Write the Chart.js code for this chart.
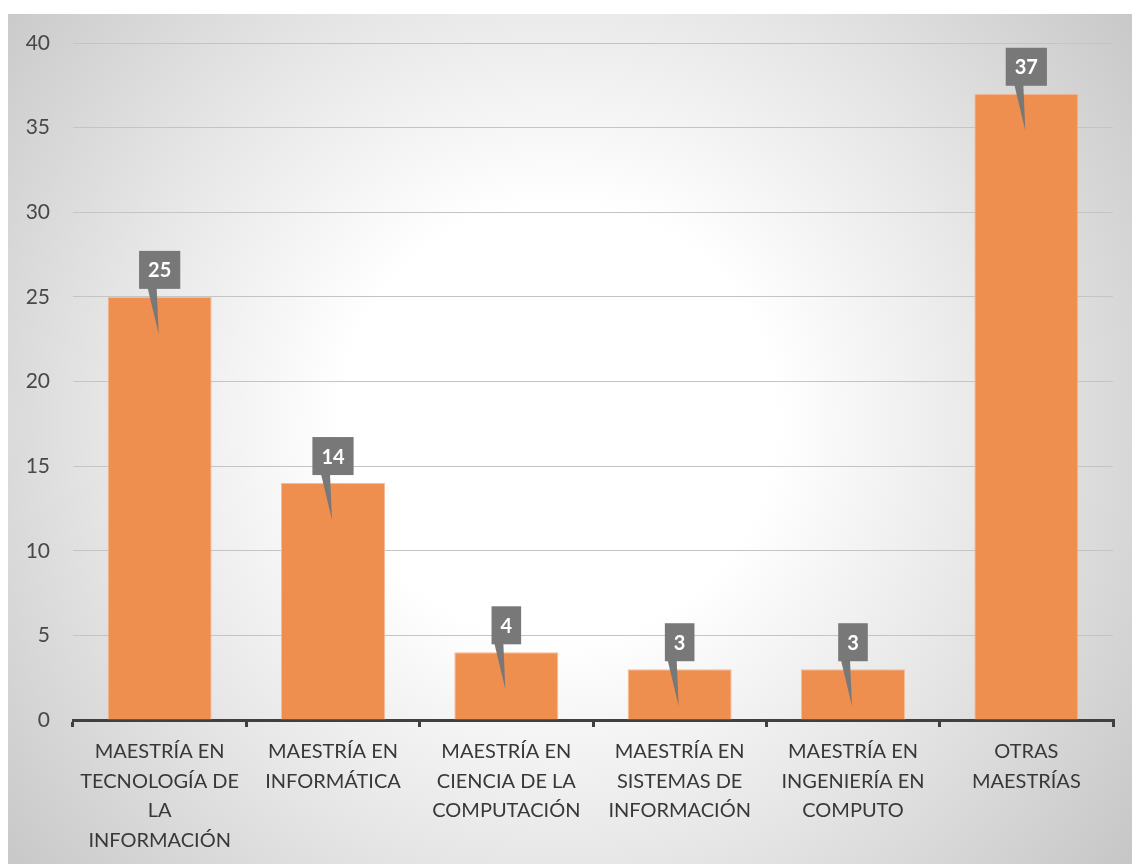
<!DOCTYPE html>
<html lang="es">
<head>
    <meta charset="UTF-8">
    <title>Maestrías</title>
    <script src="https://cdn.jsdelivr.net/npm/chart.js"></script>
    <style>
        body { margin: 0; background: #fff; }
        #fondo {
            position: absolute; left: 8px; top: 14px; width: 1124px; height: 850px;
            background: radial-gradient(circle at 49% 48%, #ffffff 0%, #ffffff 30%, #e6e6e6 62%, #c6c6c6 100%);
        }
        #grafico { position: absolute; left: 0; top: 0; }
    </style>
</head>
<body>
    <div id="fondo"></div>
    <canvas id="grafico" width="1132" height="864"></canvas>

    <script>
        // Programas de maestría y número de personas en cada uno
        const categorias = [
            ['MAESTRÍA EN', 'TECNOLOGÍA DE', 'LA', 'INFORMACIÓN'],
            ['MAESTRÍA EN', 'INFORMÁTICA'],
            ['MAESTRÍA EN', 'CIENCIA DE LA', 'COMPUTACIÓN'],
            ['MAESTRÍA EN', 'SISTEMAS DE', 'INFORMACIÓN'],
            ['MAESTRÍA EN', 'INGENIERÍA EN', 'COMPUTO'],
            ['OTRAS', 'MAESTRÍAS']
        ];
        const valores = [25, 14, 4, 3, 3, 37];
        const ticksY = [0, 5, 10, 15, 20, 25, 30, 35, 40];

        const fuente = "Lato, 'Open Sans', sans-serif";

        // Etiquetas tipo globo (caja gris con flecha hacia la barra)
        const etiquetas = {
            id: 'etiquetas',
            afterDatasetsDraw(chart) {
                const ctx = chart.ctx;
                const meta = chart.getDatasetMeta(0);
                ctx.save();
                ctx.font = 'bold 20px ' + fuente;
                meta.data.forEach((bar, i) => {
                    const texto = String(chart.data.datasets[0].data[i]);
                    const w = ctx.measureText(texto).width + 18;
                    const h = 38;
                    const x = bar.x;
                    const abajo = bar.y - 8;
                    ctx.fillStyle = '#787878';
                    ctx.beginPath();
                    ctx.moveTo(x - 12, abajo - 1);
                    ctx.lineTo(x - 3, abajo - 1);
                    ctx.lineTo(x - 1, bar.y + 37);
                    ctx.closePath();
                    ctx.fill();
                    ctx.fillRect(x - w / 2, abajo - h, w, h);
                    ctx.fillStyle = '#ffffff';
                    ctx.textAlign = 'center';
                    ctx.textBaseline = 'middle';
                    ctx.fillText(texto, x, abajo - h / 2 + 1);
                });
                ctx.restore();
            }
        };

        new Chart(document.getElementById('grafico'), {
            type: 'bar',
            data: {
                labels: categorias,
                datasets: [{
                    data: valores,
                    backgroundColor: '#ee8f4f',
                    borderColor: '#f6bc95',
                    borderWidth: 1,
                    categoryPercentage: 0.6,
                    barPercentage: 1
                }]
            },
            options: {
                responsive: false,
                animation: false,
                devicePixelRatio: 1,
                layout: { padding: { left: 0, right: 19, top: 43, bottom: 0 } },
                plugins: { legend: { display: false }, tooltip: { enabled: false } },
                scales: {
                    x: {
                        offset: true,
                        grid: {
                            offset: true,
                            drawOnChartArea: false,
                            color: '#404040',
                            lineWidth: 3,
                            tickLength: 7
                        },
                        border: { color: '#404040', width: 3 },
                        ticks: {
                            color: '#383838',
                            font: { family: fuente, size: 20, lineHeight: 1.48 },
                            padding: 10,
                            maxRotation: 0,
                            autoSkip: false
                        },
                        afterFit: s => { s.height = 144; }
                    },
                    y: {
                        min: 0,
                        max: 40,
                        afterBuildTicks: s => { s.ticks = ticksY.map(v => ({ value: v })); },
                        grid: { color: '#c4c4c4', lineWidth: 1, drawTicks: false },
                        border: { display: false },
                        ticks: {
                            color: '#484848',
                            font: { family: fuente, size: 21 },
                            padding: 23
                        },
                        afterFit: s => { s.width = 73; }
                    }
                }
            },
            plugins: [etiquetas]
        });
    </script>
</body>
</html>
